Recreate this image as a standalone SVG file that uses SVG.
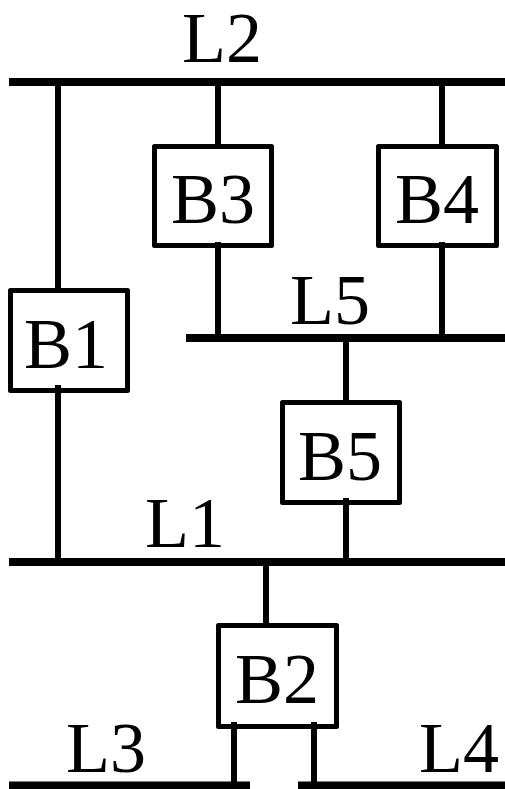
<svg xmlns="http://www.w3.org/2000/svg" width="505" height="789" viewBox="0 0 505 789">
<style>
.bus{stroke:#000;stroke-width:8;fill:none}
.wire{stroke:#000;stroke-width:6;fill:none}
.box{stroke:#000;stroke-width:5;fill:#fff;stroke-linejoin:round}
text{font-family:"Liberation Serif","Times New Roman",serif;font-size:72px;fill:#000;text-anchor:middle}
</style>
<g id="connectors">
<line class="wire" x1="58" y1="82" x2="58" y2="290"/>
<line class="wire" x1="58" y1="385" x2="58" y2="562"/>
<line class="wire" x1="218" y1="82" x2="218" y2="146"/>
<line class="wire" x1="218" y1="242" x2="218" y2="338"/>
<line class="wire" x1="442" y1="82" x2="442" y2="146"/>
<line class="wire" x1="442" y1="242" x2="442" y2="338"/>
<line class="wire" x1="346" y1="338" x2="346" y2="402"/>
<line class="wire" x1="346" y1="498" x2="346" y2="562"/>
<line class="wire" x1="266" y1="562" x2="266" y2="625"/>
<line class="wire" x1="234" y1="722" x2="234" y2="785"/>
<line class="wire" x1="314" y1="722" x2="314" y2="785"/>
</g>
<g id="L2"><line class="bus" x1="9" y1="82" x2="505" y2="82"/><text x="222" y="62">L2</text></g>
<g id="L5"><line class="bus" x1="186" y1="338" x2="505" y2="338"/><text x="330" y="324">L5</text></g>
<g id="L1"><line class="bus" x1="9" y1="562" x2="505" y2="562"/><text x="185" y="547">L1</text></g>
<g id="L3"><line class="bus" x1="9" y1="785.5" x2="250" y2="785.5"/><text x="106" y="772">L3</text></g>
<g id="L4"><line class="bus" x1="298" y1="785.5" x2="505" y2="785.5"/><text x="459" y="772">L4</text></g>
<g id="B3"><rect class="box" x="154.5" y="146.5" width="117" height="99"/><text x="213" y="223">B3</text><line class="wire" x1="218" y1="242" x2="218" y2="248"/></g>
<g id="B4"><rect class="box" x="378.5" y="146.5" width="118" height="99"/><text x="437" y="223">B4</text><line class="wire" x1="442" y1="242" x2="442" y2="248"/></g>
<g id="B1"><rect class="box" x="10.5" y="290.5" width="117" height="100"/><text x="66" y="368">B1</text><line class="wire" x1="58" y1="385" x2="58" y2="393"/></g>
<g id="B5"><rect class="box" x="282.5" y="402.5" width="117" height="100"/><text x="340" y="480">B5</text><line class="wire" x1="346" y1="498" x2="346" y2="505"/></g>
<g id="B2"><rect class="box" x="218.5" y="625.5" width="118" height="101"/><text x="277" y="703">B2</text><line class="wire" x1="234" y1="722" x2="234" y2="729"/><line class="wire" x1="314" y1="722" x2="314" y2="729"/></g>
</svg>
